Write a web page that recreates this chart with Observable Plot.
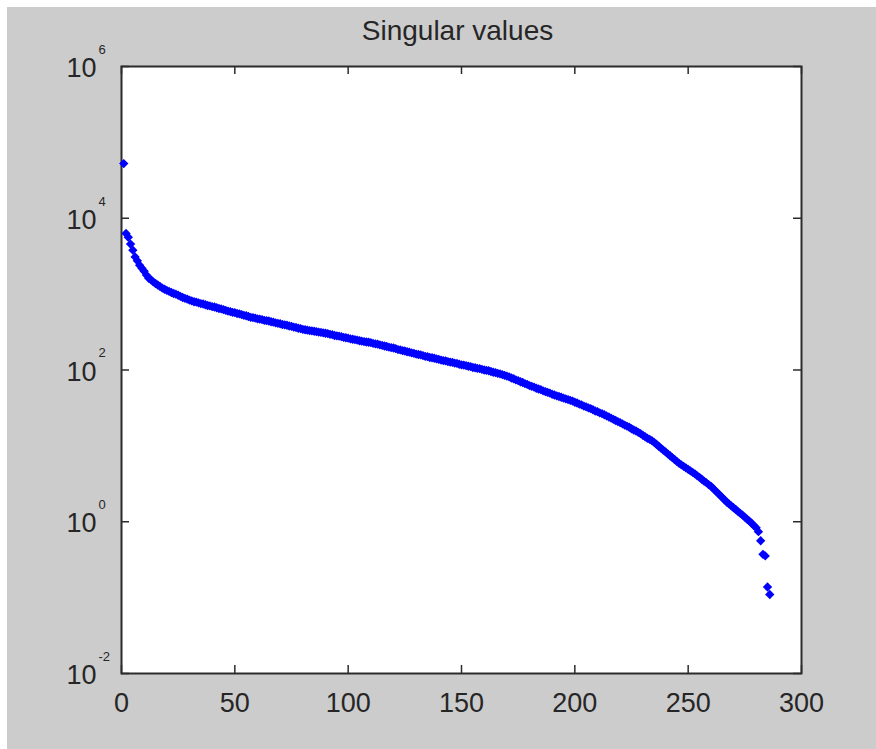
<!DOCTYPE html>
<html><head><meta charset="utf-8">
<script src="https://cdn.jsdelivr.net/npm/d3@7"></script>
<script src="https://cdn.jsdelivr.net/npm/@observablehq/plot@0.6"></script>
<style>
html,body{margin:0;padding:0;background:#fff;}
#bg{position:absolute;left:7px;top:7px;right:0;bottom:0;background:#cccccc;}
#chart{position:absolute;left:0;top:0;}
</style></head><body>
<div id="bg"></div><div id="chart"></div>
<script>
const title = "Singular values";
const xTicks = [0, 50, 100, 150, 200, 250, 300];
const yTicks = [1e-2, 1e0, 1e2, 1e4, 1e6];
const yTickExponents = ["-2", "0", "2", "4", "6"];
// singular values, index 1..286
const singularValues = [
52500, 6310, 5620, 4570, 3800, 3090, 2750, 2400, 2190, 2000,
1780, 1620, 1550, 1450, 1380, 1320, 1260, 1200, 1160, 1120,
1085, 1050, 1020, 1000, 966, 933, 902, 881, 861, 832,
813, 794, 785, 767, 750, 741, 724, 708, 700, 684,
676, 661, 646, 638, 624, 610, 596, 589, 575, 569,
556, 550, 537, 525, 519, 507, 495, 490, 484, 473,
468, 462, 452, 447, 442, 432, 427, 417, 412, 407,
398, 394, 389, 380, 376, 367, 363, 355, 351, 343,
339, 335, 331, 327, 324, 320, 316, 313, 309, 305,
302, 295, 292, 285, 282, 279, 275, 269, 266, 263,
257, 254, 251, 248, 243, 240, 237, 234, 232, 229,
224, 221, 219, 214, 211, 207, 204, 200, 197, 195,
191, 186, 184, 180, 178, 174, 172, 168, 166, 162,
160, 158, 155, 151, 150, 146, 145, 143, 140, 138,
135, 133, 132, 129, 127, 126, 123, 122, 119, 117,
116, 114, 112, 111, 108, 107, 105, 104, 102, 100,
98.9, 97.7, 95.5, 93.3, 92.3, 90.2, 89.1, 87.1, 85.1, 83.2,
81.3, 78.5, 76.7, 74.1, 72.4, 70.0, 68.4, 66.1, 64.6, 62.4,
61.0, 59.6, 57.5, 56.2, 55.0, 53.1, 51.9, 50.7, 49.5, 47.9,
46.8, 45.7, 44.7, 43.7, 42.7, 41.7, 40.7, 39.8, 38.9, 37.6,
36.7, 35.5, 34.7, 33.5, 32.7, 31.6, 30.9, 29.9, 28.8, 28.2,
27.2, 26.6, 25.7, 24.8, 24.0, 23.2, 22.4, 21.6, 20.9, 20.2,
19.5, 18.8, 18.2, 17.6, 16.8, 16.2, 15.7, 15.1, 14.5, 13.8,
13.2, 12.6, 12.2, 11.7, 11.1, 10.5, 9.89, 9.33, 8.81, 8.32,
7.85, 7.41, 7.00, 6.61, 6.24, 5.89, 5.62, 5.37, 5.13, 4.90,
4.68, 4.47, 4.27, 4.03, 3.85, 3.63, 3.43, 3.27, 3.09, 2.95,
2.75, 2.57, 2.40, 2.24, 2.09, 1.95, 1.82, 1.72, 1.62, 1.53,
1.45, 1.36, 1.29, 1.22, 1.15, 1.08, 1.02, 0.955, 0.891, 0.832,
0.741, 0.562, 0.372, 0.355, 0.138, 0.110
];

const data = singularValues.map((v, i) => ({index: i + 1, value: v}));
const axisColor = "#2b2b2b";
const W = 876, H = 749, mL = 121, mR = 75, mT = 66, mB = 76;
const innerW = W - mL - mR, innerH = H - mT - mB, tickLen = 8;

const chart = Plot.plot({
  width: W, height: H,
  marginLeft: mL, marginRight: mR, marginTop: mT, marginBottom: mB,
  style: {background: "transparent", fontFamily: "'Liberation Sans', Arial, sans-serif", color: "#262626", overflow: "visible"},
  x: {domain: [0, 300], axis: null},
  y: {type: "log", domain: [1e-2, 1e6], axis: null},
  marks: [
    Plot.frame({fill: "white"}),
    Plot.frame({stroke: axisColor, strokeWidth: 2}),
    Plot.tickX(xTicks, {x: d => d, insetTop: innerH - tickLen, stroke: axisColor, strokeWidth: 1.5}),
    Plot.tickX(xTicks, {x: d => d, insetBottom: innerH - tickLen, stroke: axisColor, strokeWidth: 1.5}),
    Plot.tickY(yTicks, {y: d => d, insetRight: innerW - tickLen, stroke: axisColor, strokeWidth: 1.5}),
    Plot.tickY(yTicks, {y: d => d, insetLeft: innerW - tickLen, stroke: axisColor, strokeWidth: 1.5}),
    Plot.dot(data, {x: "index", y: "value", symbol: "diamond2", r: 4.2, fill: "#0000ff", stroke: "none"}),
    Plot.text(xTicks, {x: d => d, frameAnchor: "bottom", lineAnchor: "top", dy: 19.5, text: d => String(d), fontSize: 27, fill: "#262626"}),
    Plot.text(yTicks, {y: d => d, frameAnchor: "left", textAnchor: "end", lineAnchor: "middle", dx: -25, dy: 2, text: () => "10", fontSize: 27, fill: "#262626"}),
    Plot.text(yTicks, {y: d => d, frameAnchor: "left", textAnchor: "start", lineAnchor: "bottom", dx: -23, dy: -12.7, text: (d, i) => yTickExponents[i], fontSize: 13, fill: "#262626"}),
    Plot.text([title], {frameAnchor: "top", lineAnchor: "bottom", dy: -26.7, dx: -4, text: d => d, fontSize: 28, fill: "#262626"})
  ]
});
document.getElementById("chart").appendChild(chart);
</script>
</body></html>
